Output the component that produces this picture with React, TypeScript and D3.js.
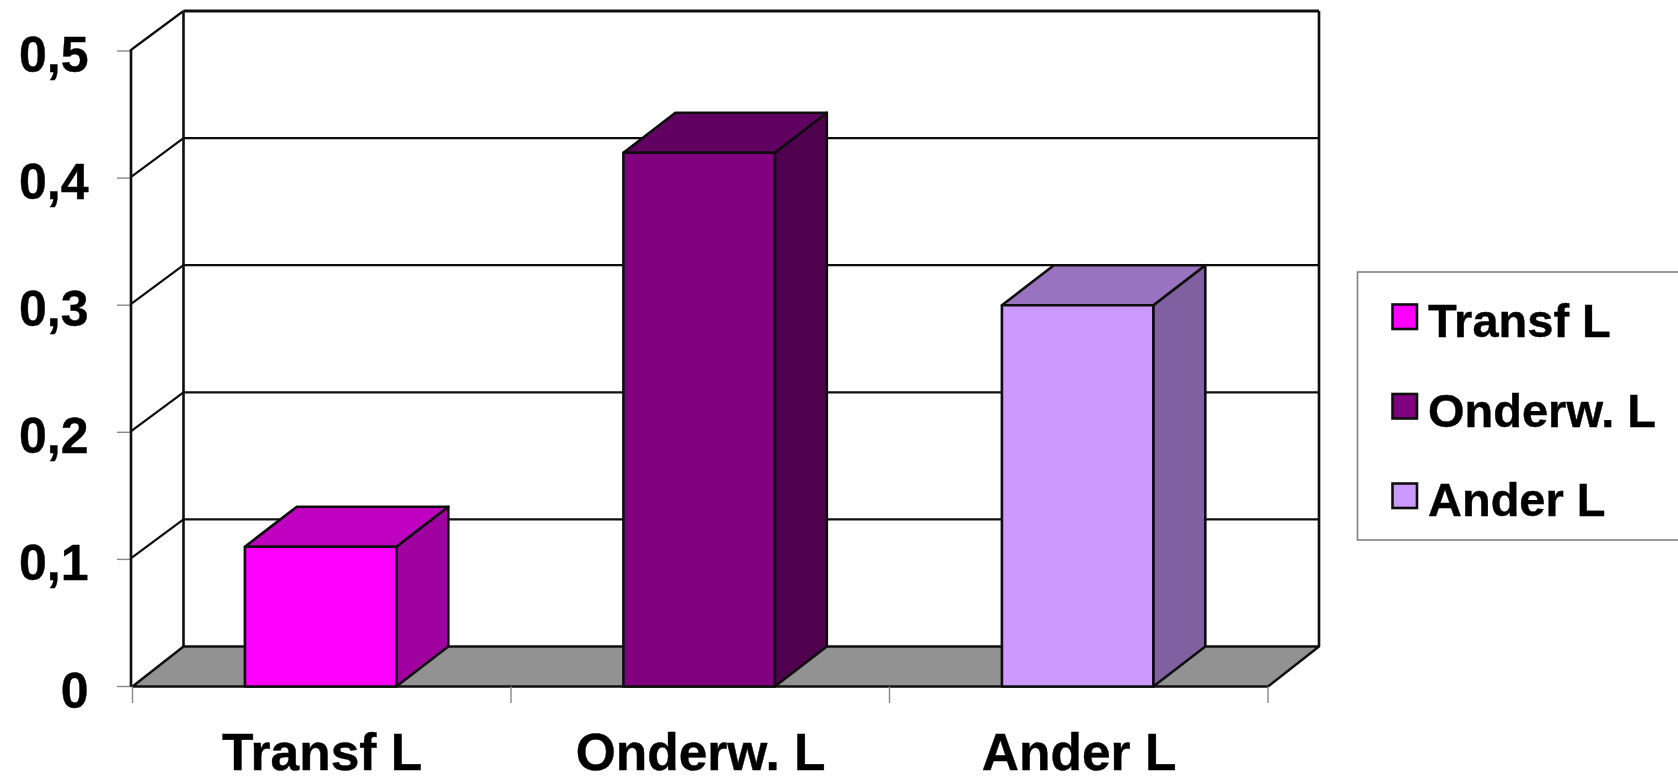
import React from 'react';
import * as d3 from 'd3';

const categories = ['Transf L', 'Onderw. L', 'Ander L'];
const values = [0.11, 0.42, 0.3];
const yTicks = [0, 0.1, 0.2, 0.3, 0.4, 0.5];
const frontColors = ['#ff00ff', '#800080', '#cc99ff'];
const topColors = ['#c000c0', '#600060', '#9973bf'];
const sideColors = ['#a000a0', '#500050', '#8060a0'];

const FONT = '"Liberation Sans", Arial, sans-serif';
const INK = '#111';

// depth offset of the 3D box
const depthX = 51;
const barDepthX = 52;
const depthY = -40;

const x = d3.scaleBand<string>().domain(categories).range([132.5, 1268]).paddingInner(0.6).paddingOuter(0.3).align(0.495);
const xStep = d3.scalePoint<number>().domain([0, 1, 2, 3]).range([132.5, 1268]);
const y = d3.scaleLinear().domain([0, 0.5]).range([686.5, 51]);

const tickLabel = (v: number) => (v === 0 ? '0' : d3.format('.1f')(v).replace('.', ','));
const poly = (pts: [number, number][]) => d3.line()(pts) + 'Z';

export default function App() {
  React.useEffect(() => {
    document.body.style.margin = '0';
    document.body.style.overflow = 'hidden';
  }, []);

  const x0 = x.range()[0];
  const x1 = x.range()[1];
  const barW = x.bandwidth();

  return (
    <svg width={1678} height={776} style={{ display: 'block' }} fontFamily={FONT}>
      <defs>
        {/* the reference is a soft upscaled image */}
        <filter id="soft" x="0" y="0" width="100%" height="100%" filterUnits="userSpaceOnUse" primitiveUnits="userSpaceOnUse">
          <feGaussianBlur stdDeviation={0.55} />
        </filter>
      </defs>
      <rect width={1678} height={776} fill="#fff" />

      <g filter="url(#soft)">
        {/* floor */}
        <path
          d={poly([[x0, y(0)], [x0 + depthX, y(0) + depthY], [x1 + depthX, y(0) + depthY], [x1, y(0)]])}
          fill="#929292"
          stroke={INK}
          strokeWidth={2.4}
          strokeLinejoin="round"
        />

        {/* back wall gridlines and left wall lines */}
        {yTicks.map(t => (
          <g key={t}>
            {t > 0 && (
              <line x1={x0 + depthX} x2={x1 + depthX} y1={y(t) + depthY} y2={y(t) + depthY} stroke={INK} strokeWidth={t === 0.5 ? 3 : 2.2} />
            )}
            {t > 0 && (
              <line x1={x0 - 1} x2={x0 + depthX} y1={y(t) - 1.5} y2={y(t) + depthY} stroke={INK} strokeWidth={2.2} />
            )}
            <line x1={117} x2={x0 - 1} y1={y(t)} y2={y(t)} stroke="#888" strokeWidth={1.4} />
            <text x={88.5} y={y(t) + 21} textAnchor="end" fontSize={50} fontWeight="bold" fill="#000" stroke="#000" strokeWidth={0.4}>
              {tickLabel(t)}
            </text>
          </g>
        ))}
        <line x1={x0 - 1.5} x2={x0 - 1.5} y1={y(0.5) - 2} y2={y(0)} stroke={INK} strokeWidth={2.6} />
        <line x1={x0 + depthX} x2={x0 + depthX} y1={y(0.5) + depthY} y2={y(0) + depthY} stroke={INK} strokeWidth={2.6} />
        <line x1={x1 + depthX} x2={x1 + depthX} y1={y(0.5) + depthY} y2={y(0) + depthY} stroke={INK} strokeWidth={2.6} />

        {/* bars */}
        {categories.map((c, i) => {
          const left = x(c) as number;
          const right = left + barW;
          const top = y(values[i]);
          const base = y(0);
          return (
            <g key={c} stroke={INK} strokeWidth={2.6} strokeLinejoin="round">
              <path d={poly([[right, top], [right + barDepthX, top + depthY], [right + barDepthX, base + depthY], [right, base]])} fill={sideColors[i]} />
              <path d={poly([[left, top], [left + barDepthX, top + depthY], [right + barDepthX, top + depthY], [right, top]])} fill={topColors[i]} />
              <rect x={left} y={top} width={barW} height={base - top} fill={frontColors[i]} />
            </g>
          );
        })}

        {/* x axis ticks and labels */}
        {xStep.domain().map(d => (
          <line key={d} x1={xStep(d)} x2={xStep(d)} y1={y(0)} y2={703} stroke="#888" strokeWidth={1.4} />
        ))}
        {categories.map(c => (
          <text key={c} x={(x(c) as number) + barW / 2 + 1.5} y={770} textAnchor="middle" fontSize={51.5} fontWeight="bold" fill="#000" stroke="#000" strokeWidth={0.4}>
            {c}
          </text>
        ))}

        {/* legend */}
        <rect x={1357.5} y={272} width={340} height={268} fill="#fff" stroke="#808080" strokeWidth={1.6} />
        {categories.map((c, i) => {
          const ly = d3.scalePoint<number>().domain([0, 1, 2]).range([304.5, 483.5])(i) as number;
          return (
            <g key={c}>
              <rect x={1392.5} y={ly} width={24.5} height={24.5} fill={frontColors[i]} stroke={INK} strokeWidth={2.6} />
              <text x={1428} y={ly + 32.5} fontSize={47} fontWeight="bold" fill="#000" stroke="#000" strokeWidth={0.4}>
                {c}
              </text>
            </g>
          );
        })}
      </g>
    </svg>
  );
}
